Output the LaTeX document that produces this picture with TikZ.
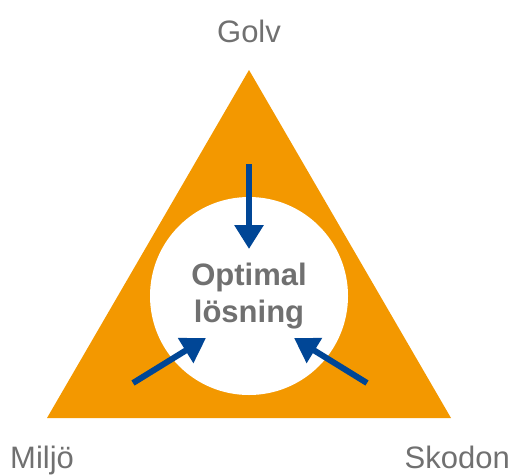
\documentclass[tikz,border=0pt]{standalone}
\usepackage{fontspec}
\setmainfont{Liberation Sans}
\usetikzlibrary{arrows.meta}
\definecolor{orng}{RGB}{243,152,0}
\definecolor{blu}{RGB}{0,70,150}
\definecolor{txtgray}{RGB}{112,112,112}
\begin{document}
\begin{tikzpicture}[x=1pt,y=-1pt,
  lbl/.style={text=txtgray,font=\fontsize{31}{37}\selectfont,inner sep=0},
  ctr/.style={text=txtgray,font=\fontsize{31}{37}\selectfont\bfseries,inner sep=0},
  push/.style={draw=blu,line width=6pt,-{Triangle[width=28pt,length=24pt]}}]
\useasboundingbox (0,0) rectangle (513,474);
\coordinate (apex) at (249,70);
\coordinate (br) at (451,418);
\coordinate (bl) at (47,418);
\fill[orng] (apex) -- (br) -- (bl) -- cycle;
\node[circle,fill=white,minimum size=198pt,inner sep=0] (c) at (249,296) {};
\node[ctr,anchor=base] (t1) at (249,285) {Optimal};
\node[ctr,anchor=base] (t2) at (249,322) {lösning};
\node[lbl,anchor=base] (golv) at (249,42) {Golv};
\node[lbl,anchor=base west] (miljo) at (10,468) {Miljö};
\node[lbl,anchor=base east] (skodon) at (510,468) {Skodon};
\coordinate (a1s) at (249,164);
\coordinate (a1e) at (249,249);
\coordinate (a2s) at (133,383);
\coordinate (a2e) at (206,338);
\coordinate (a3s) at (367,383);
\coordinate (a3e) at (294,338);
\draw[push] (a1s) -- (a1e);
\draw[push] (a2s) -- (a2e);
\draw[push] (a3s) -- (a3e);
\end{tikzpicture}
\end{document}
